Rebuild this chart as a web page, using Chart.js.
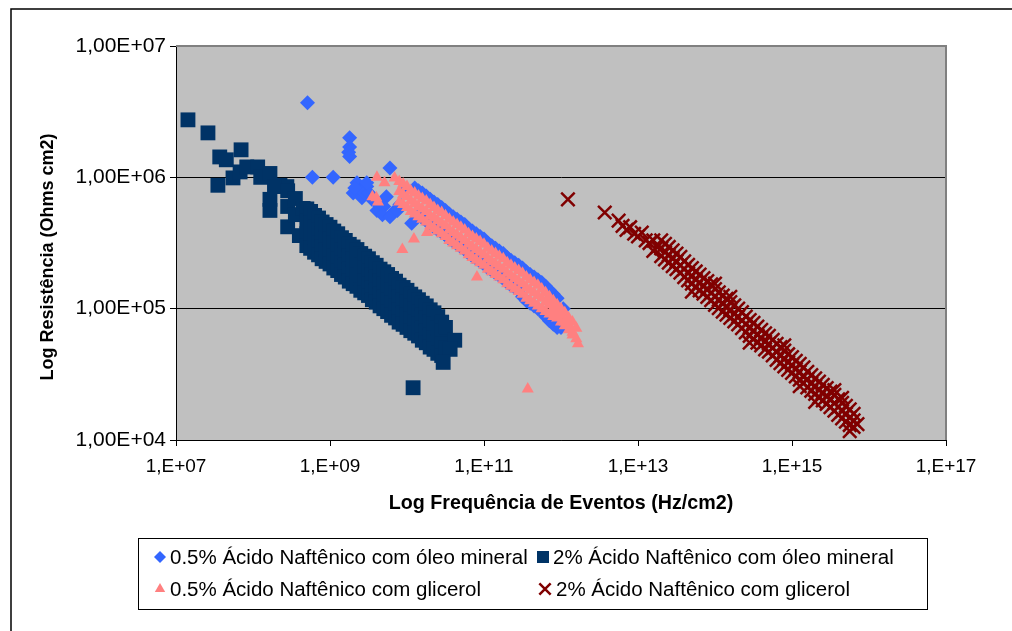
<!DOCTYPE html>
<html>
<head>
<meta charset="utf-8">
<title>Resistência x Frequência de Eventos</title>
<script src="https://cdn.jsdelivr.net/npm/chart.js@4.4.0/dist/chart.umd.min.js"></script>
<style>
    body { margin: 0; background: #fff; }
    canvas { display: block; }
</style>
</head>
<body>
<canvas id="grafico" width="1012" height="631"></canvas>
<script>
// Nomes das séries (na ordem da legenda)
var seriesLabels = [
    '0.5% Ácido Naftênico com óleo mineral',
    '2% Ácido Naftênico com óleo mineral',
    '0.5% Ácido Naftênico com glicerol',
    '2% Ácido Naftênico com glicerol'
];

// Eixos
var xTitle = 'Log Frequência de Eventos (Hz/cm2)';
var yTitle = 'Log Resistência (Ohms cm2)';
var xTickValues = [1e7, 1e9, 1e11, 1e13, 1e15, 1e17];
var xTickLabels = ['1,E+07', '1,E+09', '1,E+11', '1,E+13', '1,E+15', '1,E+17'];
var yTickValues = [1e4, 1e5, 1e6, 1e7];
var yTickLabels = ['1,00E+04', '1,00E+05', '1,00E+06', '1,00E+07'];

// [frequência (Hz/cm2), resistência (Ohms cm2)]
var oleo05 = [
    [5.1e8, 3.7e6], [5.9e8, 1.0e6], [1.1e9, 1.0e6], [1.8e9, 2.0e6], [1.8e9, 1.7e6],
    [1.75e9, 1.55e6], [1.8e9, 1.44e6], [6.0e9, 1.18e6],
    [2.24e9, 9.1e5], [2.45e9, 7.9e5], [3.0e9, 8.5e5], [2.0e9, 7.6e5], [4.47e9, 6.3e5],
    [6.6e9, 5.4e5], [4.07e9, 5.6e5], [1.15e10, 4.47e5], [5.4e9, 7.1e5], [8.1e9, 6.2e5],
    [9.3e9, 8.0e5], [3.5e9, 6.8e5], [2.6e9, 7.0e5], [2.1e9, 8.3e5], [2.8e9, 7.6e5],
    [3.2e9, 7.6e5], [3.8e9, 6.6e5], [5.0e9, 6.0e5], [4.8e9, 5.2e5], [6.0e9, 5.0e5],
    [7.5e9, 5.6e5], [3.0e9, 9.1e5],
    [1.26e10, 8.3e5], [1.58e10, 7.6e5], [2.0e10, 6.8e5], [2.51e10, 6.2e5], [3.16e10, 5.6e5],
    [3.98e10, 5.0e5], [5.01e10, 4.57e5], [6.31e10, 4.07e5], [7.94e10, 3.72e5], [1.0e11, 3.39e5],
    [1.26e11, 3.02e5], [1.58e11, 2.75e5], [2.0e11, 2.45e5], [2.51e11, 2.24e5], [3.16e11, 2.04e5],
    [3.98e11, 1.82e5], [5.01e11, 1.66e5], [6.31e11, 1.48e5], [7.94e11, 1.29e5], [1.07e12, 1.0e5],
    [1.41e10, 7.9e5], [1.78e10, 7.2e5], [2.24e10, 6.5e5], [2.82e10, 5.9e5], [3.55e10, 5.25e5],
    [4.47e10, 4.8e5], [5.62e10, 4.37e5], [7.08e10, 3.9e5], [8.91e10, 3.55e5], [1.12e11, 3.16e5],
    [1.41e11, 2.88e5], [1.78e11, 2.63e5], [2.24e11, 2.34e5], [2.82e11, 2.14e5], [3.55e11, 1.91e5],
    [4.47e11, 1.74e5], [5.62e11, 1.58e5], [7.08e11, 1.38e5], [8.91e11, 1.20e5],
    [1.41e10, 5.1e5], [1.78e10, 4.68e5], [2.24e10, 4.17e5], [2.82e10, 3.8e5], [3.55e10, 3.39e5],
    [4.47e10, 3.09e5], [5.62e10, 2.82e5], [7.08e10, 2.51e5], [8.91e10, 2.29e5], [1.12e11, 2.04e5],
    [1.41e11, 1.86e5], [1.78e11, 1.70e5], [2.24e11, 1.51e5], [2.82e11, 1.38e5], [3.55e11, 1.15e5],
    [4.47e11, 1.05e5], [5.62e11, 9.5e4], [7.08e11, 8.1e4], [8.91e11, 7.2e4], [1.07e12, 7.6e4],
    [1.58e10, 4.9e5], [2.0e10, 4.37e5], [2.51e10, 3.98e5], [3.16e10, 3.63e5], [3.98e10, 3.24e5],
    [5.01e10, 2.95e5], [6.31e10, 2.63e5], [7.94e10, 2.40e5], [1.0e11, 2.19e5], [1.26e11, 1.95e5],
    [1.58e11, 1.78e5], [2.0e11, 1.58e5], [2.51e11, 1.45e5], [3.16e11, 1.23e5], [3.98e11, 1.10e5],
    [5.01e11, 1.0e5], [6.31e11, 8.7e4], [7.94e11, 7.6e4], [1.0e12, 7.2e4]
];

var oleo2 = [
    [1.43e7, 2.74e6], [2.6e7, 2.18e6], [3.7e7, 1.43e6], [4.5e7, 1.36e6], [7.0e7, 1.62e6],
    [3.5e7, 8.7e5], [1.2e10, 2.5e4],
    [5.5e7, 9.9e5], [6.8e7, 1.1e6], [8.3e7, 1.2e6], [1.15e8, 1.2e6], [1.26e8, 1.0e6],
    [1.66e8, 1.07e6], [2.24e8, 8.7e5], [2.75e8, 8.5e5], [1.66e8, 6.8e5], [1.66e8, 5.6e5],
    [1.9e8, 8.5e5],
    [2.82e8, 7.9e5], [2.82e8, 6.0e5], [2.82e8, 4.2e5], [3.55e8, 6.9e5], [3.55e8, 5.2e5],
    [4.0e8, 3.6e5], [4.47e8, 5.8e5],
    [5.0e8, 5.75e5], [5.0e8, 4.68e5], [5.0e8, 3.72e5], [5.0e8, 3.02e5],
    [5.6e8, 5.5e5], [5.6e8, 4.47e5], [5.6e8, 3.55e5], [5.6e8, 2.88e5],
    [6.3e8, 5.13e5], [6.3e8, 4.17e5], [6.3e8, 3.31e5], [6.3e8, 2.69e5],
    [7.1e8, 4.9e5], [7.1e8, 3.98e5], [7.1e8, 3.16e5], [7.1e8, 2.57e5],
    [7.9e8, 4.57e5], [7.9e8, 3.72e5], [7.9e8, 2.95e5], [7.9e8, 2.40e5],
    [8.9e8, 4.37e5], [8.9e8, 3.55e5], [8.9e8, 2.82e5], [8.9e8, 2.29e5],
    [1.0e9, 4.17e5], [1.0e9, 3.39e5], [1.0e9, 2.69e5], [1.0e9, 2.19e5],
    [1.12e9, 3.9e5], [1.12e9, 3.16e5], [1.12e9, 2.51e5], [1.12e9, 2.04e5],
    [1.26e9, 3.72e5], [1.26e9, 3.02e5], [1.26e9, 2.40e5], [1.26e9, 1.95e5],
    [1.41e9, 3.47e5], [1.41e9, 2.82e5], [1.41e9, 2.24e5], [1.41e9, 1.82e5],
    [1.58e9, 3.31e5], [1.58e9, 2.69e5], [1.58e9, 2.14e5], [1.58e9, 1.74e5],
    [1.78e9, 3.09e5], [1.78e9, 2.51e5], [1.78e9, 2.0e5], [1.78e9, 1.62e5],
    [2.0e9, 2.95e5], [2.0e9, 2.40e5], [2.0e9, 1.91e5], [2.0e9, 1.55e5],
    [2.24e9, 2.82e5], [2.24e9, 2.29e5], [2.24e9, 1.82e5], [2.24e9, 1.48e5],
    [2.51e9, 2.63e5], [2.51e9, 2.14e5], [2.51e9, 1.70e5], [2.51e9, 1.38e5],
    [2.82e9, 2.51e5], [2.82e9, 2.04e5], [2.82e9, 1.62e5], [2.82e9, 1.32e5],
    [3.16e9, 2.40e5], [3.16e9, 1.95e5], [3.16e9, 1.55e5], [3.16e9, 1.26e5],
    [3.55e9, 2.24e5], [3.55e9, 1.82e5], [3.55e9, 1.45e5], [3.55e9, 1.17e5],
    [3.98e9, 2.14e5], [3.98e9, 1.74e5], [3.98e9, 1.38e5], [3.98e9, 1.12e5],
    [4.47e9, 2.0e5], [4.47e9, 1.62e5], [4.47e9, 1.29e5], [4.47e9, 1.05e5],
    [5.0e9, 1.91e5], [5.0e9, 1.55e5], [5.0e9, 1.23e5], [5.0e9, 1.0e5],
    [5.6e9, 1.82e5], [5.6e9, 1.48e5], [5.6e9, 1.17e5], [5.6e9, 9.5e4],
    [6.3e9, 1.70e5], [6.3e9, 1.38e5], [6.3e9, 1.10e5], [6.3e9, 8.9e4],
    [7.1e9, 1.62e5], [7.1e9, 1.32e5], [7.1e9, 1.05e5], [7.1e9, 8.5e4],
    [7.9e9, 1.51e5], [7.9e9, 1.23e5], [7.9e9, 9.8e4], [7.9e9, 7.9e4],
    [8.9e9, 1.45e5], [8.9e9, 1.17e5], [8.9e9, 9.3e4], [8.9e9, 7.6e4],
    [1.0e10, 1.38e5], [1.0e10, 1.12e5], [1.0e10, 8.9e4], [1.0e10, 7.2e4],
    [1.12e10, 1.29e5], [1.12e10, 1.05e5], [1.12e10, 8.3e4], [1.12e10, 6.8e4],
    [1.26e10, 1.23e5], [1.26e10, 1.0e5], [1.26e10, 7.9e4], [1.26e10, 6.5e4],
    [1.41e10, 1.17e5], [1.41e10, 9.5e4], [1.41e10, 7.6e4], [1.41e10, 6.2e4],
    [1.58e10, 1.10e5], [1.58e10, 8.9e4], [1.58e10, 7.1e4], [1.58e10, 5.75e4],
    [1.78e10, 1.05e5], [1.78e10, 8.5e4], [1.78e10, 6.8e4], [1.78e10, 5.5e4],
    [2.0e10, 9.8e4], [2.0e10, 7.9e4], [2.0e10, 6.3e4], [2.0e10, 5.1e4],
    [2.24e10, 9.3e4], [2.24e10, 7.6e4], [2.24e10, 6.0e4], [2.24e10, 4.9e4],
    [2.51e10, 8.7e4], [2.51e10, 7.1e4], [2.51e10, 5.6e4], [2.51e10, 4.57e4],
    [2.82e10, 7.9e4], [2.82e10, 6.8e4], [2.82e10, 5.4e4], [2.82e10, 4.4e4],
    [3.16e10, 7.2e4], [3.16e10, 5.0e4],
    [4.17e10, 5.75e4], [3.63e10, 4.9e4], [2.95e10, 3.9e4]
];

var glicerol05 = [
    [4.07e9, 1.0e6], [5.1e9, 9.1e5], [6.9e9, 9.9e5], [3.55e9, 7.1e5], [4.2e9, 6.5e5],
    [4.0e9, 7.0e5], [8.7e9, 2.82e5], [1.23e10, 3.39e5], [1.82e10, 3.8e5], [8.1e10, 1.74e5],
    [3.7e11, 2.44e4],
    [7.94e9, 9.3e5], [7.94e9, 7.8e5], [7.94e9, 6.5e5],
    [8.91e9, 8.9e5], [8.91e9, 7.4e5], [8.91e9, 6.2e5],
    [1.0e10, 8.5e5], [1.0e10, 7.1e5], [1.0e10, 5.9e5],
    [1.12e10, 7.9e5], [1.12e10, 6.6e5], [1.12e10, 5.5e5],
    [1.26e10, 7.6e5], [1.26e10, 6.3e5], [1.26e10, 5.25e5],
    [1.41e10, 7.2e5], [1.41e10, 6.0e5], [1.41e10, 5.0e5],
    [1.58e10, 6.9e5], [1.58e10, 5.75e5], [1.58e10, 4.8e5],
    [1.78e10, 6.6e5], [1.78e10, 5.5e5], [1.78e10, 4.57e5],
    [2.0e10, 6.2e5], [2.0e10, 5.1e5], [2.0e10, 4.27e5],
    [2.24e10, 5.9e5], [2.24e10, 4.9e5], [2.24e10, 4.07e5],
    [2.51e10, 5.6e5], [2.51e10, 4.68e5], [2.51e10, 3.9e5],
    [2.82e10, 5.4e5], [2.82e10, 4.47e5], [2.82e10, 3.72e5],
    [3.16e10, 5.1e5], [3.16e10, 4.27e5], [3.16e10, 3.55e5],
    [3.55e10, 4.8e5], [3.55e10, 3.98e5], [3.55e10, 3.31e5],
    [3.98e10, 4.57e5], [3.98e10, 3.8e5], [3.98e10, 3.16e5],
    [4.47e10, 4.37e5], [4.47e10, 3.63e5], [4.47e10, 3.02e5],
    [5.01e10, 4.17e5], [5.01e10, 3.47e5], [5.01e10, 2.88e5],
    [5.62e10, 3.98e5], [5.62e10, 3.31e5], [5.62e10, 2.75e5],
    [6.31e10, 3.72e5], [6.31e10, 3.09e5], [6.31e10, 2.57e5],
    [7.08e10, 3.55e5], [7.08e10, 2.95e5], [7.08e10, 2.45e5],
    [7.94e10, 3.39e5], [7.94e10, 2.82e5], [7.94e10, 2.34e5],
    [8.91e10, 3.24e5], [8.91e10, 2.69e5], [8.91e10, 2.24e5],
    [1.0e11, 3.09e5], [1.0e11, 2.57e5], [1.0e11, 2.14e5],
    [1.12e11, 2.88e5], [1.12e11, 2.40e5], [1.12e11, 2.0e5],
    [1.26e11, 2.75e5], [1.26e11, 2.29e5], [1.26e11, 1.91e5],
    [1.41e11, 2.63e5], [1.41e11, 2.19e5], [1.41e11, 1.82e5],
    [1.58e11, 2.51e5], [1.58e11, 2.09e5], [1.58e11, 1.74e5],
    [1.78e11, 2.40e5], [1.78e11, 2.0e5], [1.78e11, 1.66e5],
    [2.0e11, 2.24e5], [2.0e11, 1.86e5], [2.0e11, 1.55e5],
    [2.24e11, 2.14e5], [2.24e11, 1.78e5], [2.24e11, 1.48e5],
    [2.51e11, 2.04e5], [2.51e11, 1.70e5], [2.51e11, 1.41e5],
    [2.82e11, 1.95e5], [2.82e11, 1.62e5], [2.82e11, 1.35e5],
    [3.16e11, 1.86e5], [3.16e11, 1.55e5], [3.16e11, 1.29e5],
    [3.55e11, 1.74e5], [3.55e11, 1.45e5], [3.55e11, 1.20e5],
    [3.98e11, 1.66e5], [3.98e11, 1.38e5], [3.98e11, 1.15e5],
    [4.47e11, 1.58e5], [4.47e11, 1.32e5], [4.47e11, 1.10e5],
    [5.01e11, 1.51e5], [5.01e11, 1.26e5], [5.01e11, 1.05e5],
    [5.62e11, 1.41e5], [5.62e11, 1.20e5], [5.62e11, 1.0e5],
    [6.31e11, 1.32e5], [6.31e11, 1.12e5], [6.31e11, 9.5e4],
    [7.08e11, 1.23e5], [7.08e11, 1.07e5], [7.08e11, 9.1e4],
    [7.94e11, 1.15e5], [7.94e11, 1.0e5], [7.94e11, 8.7e4],
    [8.91e11, 1.07e5], [8.91e11, 9.3e4], [8.91e11, 8.5e4],
    [1.0e12, 1.0e5], [1.0e12, 8.9e4], [1.0e12, 7.9e4],
    [1.12e12, 9.3e4], [1.12e12, 7.9e4], [1.12e12, 7.4e4],
    [1.26e12, 8.5e4], [1.26e12, 7.6e4], [1.26e12, 6.9e4],
    [1.41e12, 7.9e4], [1.41e12, 6.6e4], [1.41e12, 6.3e4],
    [1.58e12, 7.1e4], [1.58e12, 5.9e4], [1.66e12, 5.4e4]
];

var glicerol2 = [
    [1.23e12, 6.8e5], [3.7e12, 5.4e5],
    [5.6e12, 4.68e5], [6.3e12, 4.27e5], [7.1e12, 3.98e5], [7.9e12, 4.17e5], [8.9e12, 3.72e5],
    [1.0e13, 3.55e5], [1.12e13, 3.8e5], [1.26e13, 3.31e5], [1.41e13, 3.16e5], [1.58e13, 3.31e5],
    [1.78e13, 2.95e5], [1.58e13, 2.75e5],
    [2.0e13, 3.31e5], [2.0e13, 2.88e5], [2.0e13, 2.51e5],
    [2.24e13, 3.12e5], [2.24e13, 2.69e5], [2.24e13, 2.37e5],
    [2.51e13, 2.95e5], [2.51e13, 2.57e5], [2.51e13, 2.24e5],
    [2.82e13, 2.78e5], [2.82e13, 2.40e5], [2.82e13, 2.11e5],
    [3.16e13, 2.63e5], [3.16e13, 2.29e5], [3.16e13, 2.0e5],
    [3.55e13, 2.48e5], [3.55e13, 2.14e5], [3.55e13, 1.88e5],
    [3.98e13, 2.29e5], [3.98e13, 2.0e5], [3.98e13, 1.74e5],
    [4.47e13, 2.16e5], [4.47e13, 1.86e5], [4.47e13, 1.64e5],
    [5.01e13, 2.04e5], [5.01e13, 1.78e5], [5.01e13, 1.55e5], [5.01e13, 1.35e5],
    [5.62e13, 1.92e5], [5.62e13, 1.66e5], [5.62e13, 1.46e5],
    [6.31e13, 1.82e5], [6.31e13, 1.58e5], [6.31e13, 1.38e5],
    [7.08e13, 1.71e5], [7.08e13, 1.48e5], [7.08e13, 1.30e5],
    [7.94e13, 1.62e5], [7.94e13, 1.41e5], [7.94e13, 1.23e5],
    [8.91e13, 1.53e5], [8.91e13, 1.32e5], [8.91e13, 1.16e5],
    [1.0e14, 1.55e5], [1.0e14, 1.41e5], [1.0e14, 1.23e5], [1.0e14, 1.07e5],
    [1.12e14, 1.33e5], [1.12e14, 1.17e5], [1.12e14, 1.01e5],
    [1.26e14, 1.26e5], [1.26e14, 1.10e5], [1.26e14, 9.5e4],
    [1.41e14, 1.19e5], [1.41e14, 1.02e5], [1.41e14, 9.0e4],
    [1.58e14, 1.23e5], [1.58e14, 1.12e5], [1.58e14, 9.8e4], [1.58e14, 8.5e4],
    [1.78e14, 1.06e5], [1.78e14, 9.1e4], [1.78e14, 8.0e4],
    [2.0e14, 1.0e5], [2.0e14, 8.7e4], [2.0e14, 7.6e4],
    [2.24e14, 9.4e4], [2.24e14, 8.1e4], [2.24e14, 7.1e4],
    [2.51e14, 8.7e4], [2.51e14, 7.6e4], [2.51e14, 6.6e4],
    [2.82e14, 8.2e4], [2.82e14, 7.2e4], [2.82e14, 6.2e4], [2.82e14, 5.5e4],
    [3.16e14, 7.8e4], [3.16e14, 6.8e4], [3.16e14, 5.9e4],
    [3.55e14, 7.3e4], [3.55e14, 6.3e4], [3.55e14, 5.5e4],
    [3.98e14, 6.9e4], [3.98e14, 6.0e4], [3.98e14, 5.25e4],
    [4.47e14, 6.5e4], [4.47e14, 5.6e4], [4.47e14, 4.9e4],
    [5.01e14, 6.2e4], [5.01e14, 5.4e4], [5.01e14, 4.7e4],
    [5.62e14, 5.8e4], [5.62e14, 5.0e4], [5.62e14, 4.4e4],
    [6.31e14, 5.4e4], [6.31e14, 4.68e4], [6.31e14, 4.07e4],
    [7.08e14, 5.1e4], [7.08e14, 4.37e4], [7.08e14, 3.84e4],
    [7.94e14, 5.25e4], [7.94e14, 4.8e4], [7.94e14, 4.17e4], [7.94e14, 3.63e4],
    [8.91e14, 4.5e4], [8.91e14, 3.9e4], [8.91e14, 3.42e4],
    [1.0e15, 4.27e4], [1.0e15, 3.72e4], [1.0e15, 3.24e4],
    [1.12e15, 4.0e4], [1.12e15, 3.47e4], [1.12e15, 3.05e4],
    [1.26e15, 3.8e4], [1.26e15, 3.31e4], [1.26e15, 2.88e4], [1.26e15, 2.57e4],
    [1.41e15, 3.58e4], [1.41e15, 3.02e4], [1.41e15, 2.72e4],
    [1.58e15, 3.31e4], [1.58e15, 2.88e4], [1.58e15, 2.51e4],
    [1.78e15, 3.12e4], [1.78e15, 2.69e4], [1.78e15, 2.37e4],
    [2.0e15, 2.95e4], [2.0e15, 2.57e4], [2.0e15, 2.24e4], [2.0e15, 1.95e4],
    [2.24e15, 2.78e4], [2.24e15, 2.40e4], [2.24e15, 2.11e4],
    [2.51e15, 2.63e4], [2.51e15, 2.29e4], [2.51e15, 2.0e4],
    [2.82e15, 2.48e4], [2.82e15, 2.14e4], [2.82e15, 1.88e4],
    [3.16e15, 2.34e4], [3.16e15, 2.04e4], [3.16e15, 1.78e4],
    [3.55e15, 2.4e4], [3.55e15, 2.21e4], [3.55e15, 1.91e4], [3.55e15, 1.67e4],
    [3.98e15, 2.04e4], [3.98e15, 1.78e4], [3.98e15, 1.55e4],
    [4.47e15, 2.09e4], [4.47e15, 1.92e4], [4.47e15, 1.66e4], [4.47e15, 1.46e4],
    [5.01e15, 1.82e4], [5.01e15, 1.58e4], [5.01e15, 1.38e4],
    [5.62e15, 1.71e4], [5.62e15, 1.48e4], [5.62e15, 1.30e4], [5.62e15, 1.17e4],
    [6.31e15, 1.58e4], [6.31e15, 1.41e4], [6.31e15, 1.26e4],
    [7.08e15, 1.32e4]
];

var fonte = '"Liberation Sans", Arial, sans-serif';

function toPoints(lista) { // pares [x, y] -> objetos do Chart.js
    return lista.map(function (p) { return { x: p[0], y: p[1] }; });
}

// marcadores de cada série
var estilos = [
    { pointStyle: 'rectRot', radius: 7.5, cor: '#3366FF', borda: 0 },
    { pointStyle: 'rect', radius: 10.5, cor: '#003366', borda: 0 },
    { pointStyle: 'triangle', radius: 7, cor: '#FF8080', borda: 0 },
    { pointStyle: 'crossRot', radius: 9.5, cor: '#800000', borda: 2.5 }
];
var series = [oleo05, oleo2, glicerol05, glicerol2];
var ordem = [4, 3, 2, 1]; // última série desenhada por cima

var datasets = series.map(function (s, i) {
    var e = estilos[i];
    return {
        label: seriesLabels[i],
        data: toPoints(s),
        order: ordem[i],
        pointStyle: e.pointStyle,
        pointRadius: e.radius,
        pointHoverRadius: e.radius,
        pointBorderWidth: e.borda,
        backgroundColor: e.cor,
        borderColor: e.cor,
        showLine: false
    };
});

// fundo branco, moldura e área cinza do gráfico
var fundo = {
    id: 'fundo',
    beforeDraw: function (chart) {
        var ctx = chart.ctx;
        var a = chart.chartArea;
        ctx.save();
        ctx.fillStyle = '#fff';
        ctx.fillRect(0, 0, chart.width, chart.height);
        ctx.fillStyle = '#C0C0C0';
        ctx.fillRect(a.left, a.top, a.right - a.left, a.bottom - a.top);
        ctx.strokeStyle = '#000';
        ctx.lineWidth = 1.5;
        ctx.strokeRect(11, 9, chart.width + 10, chart.height + 10);
        ctx.restore();
    },
    beforeDatasetsDraw: function (chart) {
        var ctx = chart.ctx;
        var a = chart.chartArea;
        ctx.save();
        ctx.strokeStyle = '#808080';
        ctx.lineWidth = 2;
        ctx.beginPath();
        ctx.moveTo(a.left, a.top);
        ctx.lineTo(a.right, a.top);
        ctx.lineTo(a.right, a.bottom);
        ctx.stroke();
        ctx.restore();
    }
};

// título do eixo Y (um pouco abaixo do centro da área)
var tituloY = {
    id: 'tituloY',
    afterDraw: function (chart) {
        var ctx = chart.ctx;
        ctx.save();
        ctx.translate(48, 257);
        ctx.rotate(-Math.PI / 2);
        ctx.font = 'bold 18px ' + fonte;
        ctx.fillStyle = '#000';
        ctx.textAlign = 'center';
        ctx.textBaseline = 'middle';
        ctx.fillText(yTitle, 0, 0);
        ctx.restore();
    }
};

// legenda em caixa, duas colunas
var legenda = {
    id: 'legenda',
    afterDraw: function (chart) {
        var ctx = chart.ctx;
        var pos = [[160, 557], [543, 557], [160, 589], [545, 589]];
        var texto = [170, 553, 170, 556];
        var raio = [6, 8.5, 6, 8];
        ctx.save();
        ctx.strokeStyle = '#000';
        ctx.lineWidth = 1;
        ctx.strokeRect(138.5, 538.5, 789, 71);
        ctx.font = '20.5px ' + fonte;
        ctx.textBaseline = 'middle';
        ctx.textAlign = 'left';
        for (var i = 0; i < seriesLabels.length; i++) {
            var e = estilos[i];
            ctx.fillStyle = e.cor;
            ctx.strokeStyle = e.cor;
            ctx.lineWidth = e.borda;
            Chart.helpers.drawPoint(ctx, {
                pointStyle: e.pointStyle,
                radius: raio[i],
                rotation: 0,
                borderWidth: e.borda
            }, pos[i][0], pos[i][1]);
            ctx.fillStyle = '#000';
            ctx.fillText(seriesLabels[i], texto[i], pos[i][1] + 1);
        }
        ctx.restore();
    }
};

new Chart(document.getElementById('grafico'), {
    type: 'scatter',
    data: { datasets: datasets },
    options: {
        responsive: false,
        animation: false,
        devicePixelRatio: 1,
        events: [],
        layout: { padding: { left: 0, right: 66, top: 46, bottom: 116 } },
        plugins: {
            legend: { display: false },
            tooltip: { enabled: false }
        },
        scales: {
            x: {
                type: 'logarithmic',
                position: 'bottom',
                min: 1e7,
                max: 1e17,
                afterBuildTicks: function (scale) {
                    scale.ticks = xTickValues.map(function (v) { return { value: v }; });
                },
                afterFit: function (scale) { scale.height = 75; },
                ticks: {
                    autoSkip: false,
                    maxRotation: 0,
                    padding: 9,
                    color: '#000',
                    font: { family: fonte, size: 19 },
                    callback: function (value) { return xTickLabels[xTickValues.indexOf(value)]; }
                },
                grid: { drawOnChartArea: false, drawTicks: true, tickLength: 6, tickColor: '#000' },
                border: { display: true, color: '#000', width: 1 },
                title: {
                    display: true,
                    text: xTitle,
                    color: '#000',
                    font: { family: fonte, size: 19.7, weight: 'bold' },
                    padding: { top: 0, bottom: 0 }
                }
            },
            y: {
                type: 'logarithmic',
                position: 'left',
                min: 1e4,
                max: 1e7,
                afterBuildTicks: function (scale) {
                    scale.ticks = yTickValues.map(function (v) { return { value: v }; });
                },
                afterFit: function (scale) { scale.width = 176; },
                ticks: {
                    padding: 4,
                    color: '#000',
                    font: { family: fonte, size: 21 },
                    callback: function (value) { return yTickLabels[yTickValues.indexOf(value)]; }
                },
                grid: {
                    color: function (c) { return c.tick && c.tick.value === 1e7 ? '#808080' : '#000'; },
                    lineWidth: 1,
                    drawTicks: true,
                    tickLength: 6,
                    tickColor: '#000'
                },
                border: { display: true, color: '#000', width: 1 }
            }
        }
    },
    plugins: [fundo, tituloY, legenda]
});
</script>
</body>
</html>
